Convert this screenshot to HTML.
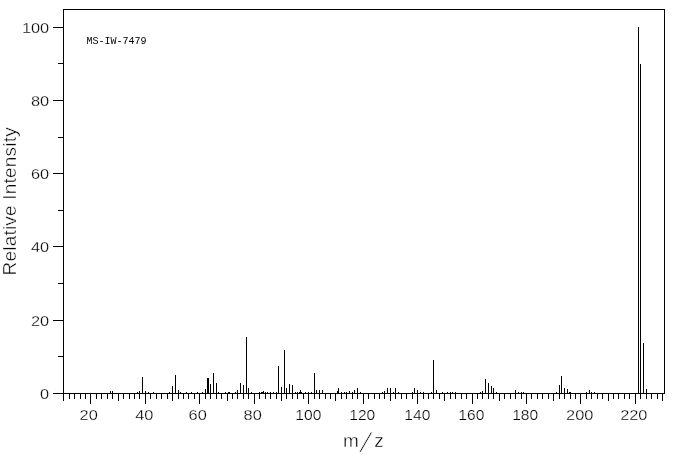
<!DOCTYPE html>
<html><head><meta charset="utf-8"><title>MS-IW-7479</title>
<style>
html,body{margin:0;padding:0;background:#fff;}
body{width:676px;height:455px;overflow:hidden;position:relative;}
svg{display:block;}
.t{font-family:"Liberation Sans",sans-serif;font-size:14px;fill:#000;stroke:#fff;stroke-width:0.25px;paint-order:fill stroke;}
.l{font-family:"Liberation Sans",sans-serif;font-size:19px;fill:#000;stroke:#fff;stroke-width:0.4px;paint-order:fill stroke;}
.mz{position:absolute;left:0;top:0;width:676px;height:455px;font-family:"Liberation Sans",sans-serif;font-size:19px;line-height:19px;color:#000;}
.mz span{position:absolute;display:block;white-space:pre;-webkit-text-stroke:0.4px #fff;}
.m{font-family:"Liberation Mono",monospace;font-size:10px;fill:#000;}
</style></head><body>
<svg width="676" height="455" viewBox="0 0 676 455">
<rect x="0" y="0" width="676" height="455" fill="#fff"/>
<g fill="#000" shape-rendering="crispEdges">
<rect x="63" y="9" width="602" height="1"/>
<rect x="63" y="9" width="1" height="385"/>
<rect x="664" y="9" width="1" height="385"/>
<rect x="53" y="393" width="612" height="1"/>
<rect x="53" y="27" width="10" height="1"/>
<rect x="53" y="100" width="10" height="1"/>
<rect x="53" y="173" width="10" height="1"/>
<rect x="53" y="246" width="10" height="1"/>
<rect x="53" y="320" width="10" height="1"/>
<rect x="58" y="63" width="5" height="1"/>
<rect x="58" y="137" width="5" height="1"/>
<rect x="58" y="210" width="5" height="1"/>
<rect x="58" y="283" width="5" height="1"/>
<rect x="58" y="356" width="5" height="1"/>
<rect x="63" y="393" width="1" height="8"/>
<rect x="69" y="393" width="1" height="6"/>
<rect x="74" y="393" width="1" height="6"/>
<rect x="80" y="393" width="1" height="6"/>
<rect x="85" y="393" width="1" height="6"/>
<rect x="90" y="393" width="1" height="11"/>
<rect x="96" y="393" width="1" height="6"/>
<rect x="101" y="393" width="1" height="6"/>
<rect x="107" y="393" width="1" height="6"/>
<rect x="112" y="393" width="1" height="6"/>
<rect x="118" y="393" width="1" height="8"/>
<rect x="123" y="393" width="1" height="6"/>
<rect x="129" y="393" width="1" height="6"/>
<rect x="134" y="393" width="1" height="6"/>
<rect x="139" y="393" width="1" height="6"/>
<rect x="145" y="393" width="1" height="11"/>
<rect x="150" y="393" width="1" height="6"/>
<rect x="156" y="393" width="1" height="6"/>
<rect x="161" y="393" width="1" height="6"/>
<rect x="167" y="393" width="1" height="6"/>
<rect x="172" y="393" width="1" height="8"/>
<rect x="178" y="393" width="1" height="6"/>
<rect x="183" y="393" width="1" height="6"/>
<rect x="188" y="393" width="1" height="6"/>
<rect x="194" y="393" width="1" height="6"/>
<rect x="199" y="393" width="1" height="11"/>
<rect x="205" y="393" width="1" height="6"/>
<rect x="210" y="393" width="1" height="6"/>
<rect x="216" y="393" width="1" height="6"/>
<rect x="221" y="393" width="1" height="6"/>
<rect x="227" y="393" width="1" height="8"/>
<rect x="232" y="393" width="1" height="6"/>
<rect x="237" y="393" width="1" height="6"/>
<rect x="243" y="393" width="1" height="6"/>
<rect x="248" y="393" width="1" height="6"/>
<rect x="254" y="393" width="1" height="11"/>
<rect x="259" y="393" width="1" height="6"/>
<rect x="265" y="393" width="1" height="6"/>
<rect x="270" y="393" width="1" height="6"/>
<rect x="276" y="393" width="1" height="6"/>
<rect x="281" y="393" width="1" height="8"/>
<rect x="286" y="393" width="1" height="6"/>
<rect x="292" y="393" width="1" height="6"/>
<rect x="297" y="393" width="1" height="6"/>
<rect x="303" y="393" width="1" height="6"/>
<rect x="308" y="393" width="1" height="11"/>
<rect x="314" y="393" width="1" height="6"/>
<rect x="319" y="393" width="1" height="6"/>
<rect x="325" y="393" width="1" height="6"/>
<rect x="330" y="393" width="1" height="6"/>
<rect x="335" y="393" width="1" height="8"/>
<rect x="341" y="393" width="1" height="6"/>
<rect x="346" y="393" width="1" height="6"/>
<rect x="352" y="393" width="1" height="6"/>
<rect x="357" y="393" width="1" height="6"/>
<rect x="363" y="393" width="1" height="11"/>
<rect x="368" y="393" width="1" height="6"/>
<rect x="374" y="393" width="1" height="6"/>
<rect x="379" y="393" width="1" height="6"/>
<rect x="384" y="393" width="1" height="6"/>
<rect x="390" y="393" width="1" height="8"/>
<rect x="395" y="393" width="1" height="6"/>
<rect x="401" y="393" width="1" height="6"/>
<rect x="406" y="393" width="1" height="6"/>
<rect x="412" y="393" width="1" height="6"/>
<rect x="417" y="393" width="1" height="11"/>
<rect x="423" y="393" width="1" height="6"/>
<rect x="428" y="393" width="1" height="6"/>
<rect x="433" y="393" width="1" height="6"/>
<rect x="439" y="393" width="1" height="6"/>
<rect x="444" y="393" width="1" height="8"/>
<rect x="450" y="393" width="1" height="6"/>
<rect x="455" y="393" width="1" height="6"/>
<rect x="461" y="393" width="1" height="6"/>
<rect x="466" y="393" width="1" height="6"/>
<rect x="472" y="393" width="1" height="11"/>
<rect x="477" y="393" width="1" height="6"/>
<rect x="482" y="393" width="1" height="6"/>
<rect x="488" y="393" width="1" height="6"/>
<rect x="493" y="393" width="1" height="6"/>
<rect x="499" y="393" width="1" height="8"/>
<rect x="504" y="393" width="1" height="6"/>
<rect x="510" y="393" width="1" height="6"/>
<rect x="515" y="393" width="1" height="6"/>
<rect x="521" y="393" width="1" height="6"/>
<rect x="526" y="393" width="1" height="11"/>
<rect x="531" y="393" width="1" height="6"/>
<rect x="537" y="393" width="1" height="6"/>
<rect x="542" y="393" width="1" height="6"/>
<rect x="548" y="393" width="1" height="6"/>
<rect x="553" y="393" width="1" height="8"/>
<rect x="559" y="393" width="1" height="6"/>
<rect x="564" y="393" width="1" height="6"/>
<rect x="570" y="393" width="1" height="6"/>
<rect x="575" y="393" width="1" height="6"/>
<rect x="580" y="393" width="1" height="11"/>
<rect x="586" y="393" width="1" height="6"/>
<rect x="591" y="393" width="1" height="6"/>
<rect x="597" y="393" width="1" height="6"/>
<rect x="602" y="393" width="1" height="6"/>
<rect x="608" y="393" width="1" height="8"/>
<rect x="613" y="393" width="1" height="6"/>
<rect x="618" y="393" width="1" height="6"/>
<rect x="624" y="393" width="1" height="6"/>
<rect x="629" y="393" width="1" height="6"/>
<rect x="635" y="393" width="1" height="11"/>
<rect x="640" y="393" width="1" height="6"/>
<rect x="646" y="393" width="1" height="6"/>
<rect x="651" y="393" width="1" height="6"/>
<rect x="657" y="393" width="1" height="6"/>
<rect x="662" y="393" width="1" height="8"/>
<rect x="110" y="391" width="1" height="2"/>
<rect x="112" y="391" width="1" height="2"/>
<rect x="137" y="392" width="1" height="1"/>
<rect x="139" y="391" width="1" height="2"/>
<rect x="142" y="377" width="1" height="16"/>
<rect x="145" y="391" width="1" height="2"/>
<rect x="148" y="392" width="1" height="1"/>
<rect x="153" y="392" width="1" height="1"/>
<rect x="169" y="392" width="1" height="1"/>
<rect x="172" y="386" width="1" height="7"/>
<rect x="175" y="375" width="1" height="18"/>
<rect x="178" y="390" width="1" height="3"/>
<rect x="180" y="392" width="1" height="1"/>
<rect x="186" y="392" width="1" height="1"/>
<rect x="191" y="392" width="1" height="1"/>
<rect x="197" y="392" width="1" height="1"/>
<rect x="202" y="392" width="1" height="1"/>
<rect x="205" y="389" width="1" height="4"/>
<rect x="207" y="378" width="1" height="15"/>
<rect x="208" y="378" width="1" height="15"/>
<rect x="210" y="384" width="1" height="9"/>
<rect x="213" y="373" width="1" height="20"/>
<rect x="216" y="383" width="1" height="10"/>
<rect x="218" y="392" width="1" height="1"/>
<rect x="225" y="392" width="1" height="1"/>
<rect x="228" y="392" width="1" height="1"/>
<rect x="229" y="392" width="1" height="1"/>
<rect x="235" y="392" width="1" height="1"/>
<rect x="237" y="390" width="1" height="3"/>
<rect x="240" y="383" width="1" height="10"/>
<rect x="243" y="385" width="1" height="8"/>
<rect x="246" y="337" width="1" height="56"/>
<rect x="248" y="388" width="1" height="5"/>
<rect x="251" y="392" width="1" height="1"/>
<rect x="259" y="392" width="1" height="1"/>
<rect x="261" y="392" width="1" height="1"/>
<rect x="262" y="392" width="1" height="1"/>
<rect x="263" y="391" width="1" height="2"/>
<rect x="265" y="392" width="1" height="1"/>
<rect x="267" y="392" width="1" height="1"/>
<rect x="270" y="392" width="1" height="1"/>
<rect x="273" y="392" width="1" height="1"/>
<rect x="276" y="392" width="1" height="1"/>
<rect x="278" y="366" width="1" height="27"/>
<rect x="281" y="387" width="1" height="6"/>
<rect x="284" y="350" width="1" height="43"/>
<rect x="286" y="388" width="1" height="5"/>
<rect x="289" y="384" width="1" height="9"/>
<rect x="292" y="385" width="1" height="8"/>
<rect x="295" y="392" width="1" height="1"/>
<rect x="297" y="392" width="1" height="1"/>
<rect x="299" y="392" width="1" height="1"/>
<rect x="300" y="390" width="1" height="3"/>
<rect x="301" y="392" width="1" height="1"/>
<rect x="305" y="392" width="1" height="1"/>
<rect x="308" y="392" width="1" height="1"/>
<rect x="311" y="392" width="1" height="1"/>
<rect x="314" y="373" width="1" height="20"/>
<rect x="316" y="390" width="1" height="3"/>
<rect x="319" y="390" width="1" height="3"/>
<rect x="322" y="390" width="1" height="3"/>
<rect x="337" y="391" width="1" height="2"/>
<rect x="338" y="388" width="1" height="5"/>
<rect x="341" y="392" width="1" height="1"/>
<rect x="344" y="392" width="1" height="1"/>
<rect x="346" y="392" width="1" height="1"/>
<rect x="349" y="391" width="1" height="2"/>
<rect x="352" y="392" width="1" height="1"/>
<rect x="354" y="390" width="1" height="3"/>
<rect x="357" y="388" width="1" height="5"/>
<rect x="360" y="392" width="1" height="1"/>
<rect x="382" y="392" width="1" height="1"/>
<rect x="384" y="391" width="1" height="2"/>
<rect x="387" y="388" width="1" height="5"/>
<rect x="390" y="388" width="1" height="5"/>
<rect x="393" y="392" width="1" height="1"/>
<rect x="395" y="388" width="1" height="5"/>
<rect x="398" y="392" width="1" height="1"/>
<rect x="412" y="392" width="1" height="1"/>
<rect x="414" y="388" width="1" height="5"/>
<rect x="417" y="390" width="1" height="3"/>
<rect x="420" y="392" width="1" height="1"/>
<rect x="423" y="392" width="1" height="1"/>
<rect x="431" y="392" width="1" height="1"/>
<rect x="433" y="360" width="1" height="33"/>
<rect x="436" y="390" width="1" height="3"/>
<rect x="442" y="392" width="1" height="1"/>
<rect x="447" y="392" width="1" height="1"/>
<rect x="450" y="392" width="1" height="1"/>
<rect x="452" y="392" width="1" height="1"/>
<rect x="455" y="392" width="1" height="1"/>
<rect x="480" y="392" width="1" height="1"/>
<rect x="482" y="391" width="1" height="2"/>
<rect x="485" y="379" width="1" height="14"/>
<rect x="488" y="383" width="1" height="10"/>
<rect x="491" y="386" width="1" height="7"/>
<rect x="493" y="388" width="1" height="5"/>
<rect x="496" y="392" width="1" height="1"/>
<rect x="515" y="390" width="1" height="3"/>
<rect x="518" y="392" width="1" height="1"/>
<rect x="521" y="392" width="1" height="1"/>
<rect x="523" y="392" width="1" height="1"/>
<rect x="556" y="392" width="1" height="1"/>
<rect x="559" y="385" width="1" height="8"/>
<rect x="561" y="376" width="1" height="17"/>
<rect x="564" y="388" width="1" height="5"/>
<rect x="567" y="389" width="1" height="4"/>
<rect x="569" y="392" width="1" height="1"/>
<rect x="570" y="392" width="1" height="1"/>
<rect x="586" y="392" width="1" height="1"/>
<rect x="589" y="390" width="1" height="3"/>
<rect x="591" y="392" width="1" height="1"/>
<rect x="594" y="392" width="1" height="1"/>
<rect x="638" y="27" width="1" height="366"/>
<rect x="640" y="64" width="1" height="329"/>
<rect x="643" y="343" width="1" height="50"/>
<rect x="646" y="389" width="1" height="4"/>
</g>
<g>
<text transform="translate(49.2,32.5) scale(1.17,1)" text-anchor="end" class="t">100</text>
<text transform="translate(49.2,105.5) scale(1.17,1)" text-anchor="end" class="t">80</text>
<text transform="translate(49.2,178.5) scale(1.17,1)" text-anchor="end" class="t">60</text>
<text transform="translate(49.2,251.5) scale(1.17,1)" text-anchor="end" class="t">40</text>
<text transform="translate(49.2,325.5) scale(1.17,1)" text-anchor="end" class="t">20</text>
<text transform="translate(49.2,398.5) scale(1.17,1)" text-anchor="end" class="t">0</text>
<text transform="translate(88.7,420) scale(1.17,1)" text-anchor="middle" class="t">20</text>
<text transform="translate(144.3,420) scale(1.17,1)" text-anchor="middle" class="t">40</text>
<text transform="translate(197.7,420) scale(1.17,1)" text-anchor="middle" class="t">60</text>
<text transform="translate(252.7,420) scale(1.17,1)" text-anchor="middle" class="t">80</text>
<text transform="translate(308.3,420) scale(1.114,1)" text-anchor="middle" class="t">100</text>
<text transform="translate(362.25,420) scale(1.114,1)" text-anchor="middle" class="t">120</text>
<text transform="translate(417.3,420) scale(1.114,1)" text-anchor="middle" class="t">140</text>
<text transform="translate(471.3,420) scale(1.114,1)" text-anchor="middle" class="t">160</text>
<text transform="translate(525.2,420) scale(1.114,1)" text-anchor="middle" class="t">180</text>
<text transform="translate(579.7,420) scale(1.17,1)" text-anchor="middle" class="t">200</text>
<text transform="translate(633.8,420) scale(1.17,1)" text-anchor="middle" class="t">220</text>
<text transform="translate(16,201.3) rotate(-90)" text-anchor="middle" class="l" style="letter-spacing:0.2px">Relative Intensity</text>
<text x="86.6" y="44" class="m">MS-IW-7479</text>
</g>
</svg>
<div class="mz"><span style="left:343px;top:430.92px">m</span><span style="left:359.3px;top:435.52px;-webkit-text-stroke-width:0.6px;transform-origin:0 16.08px;transform:skewX(-19deg) scale(1.25,1.45)">/</span><span style="left:374.3px;top:430.92px">z</span></div>
</body></html>
